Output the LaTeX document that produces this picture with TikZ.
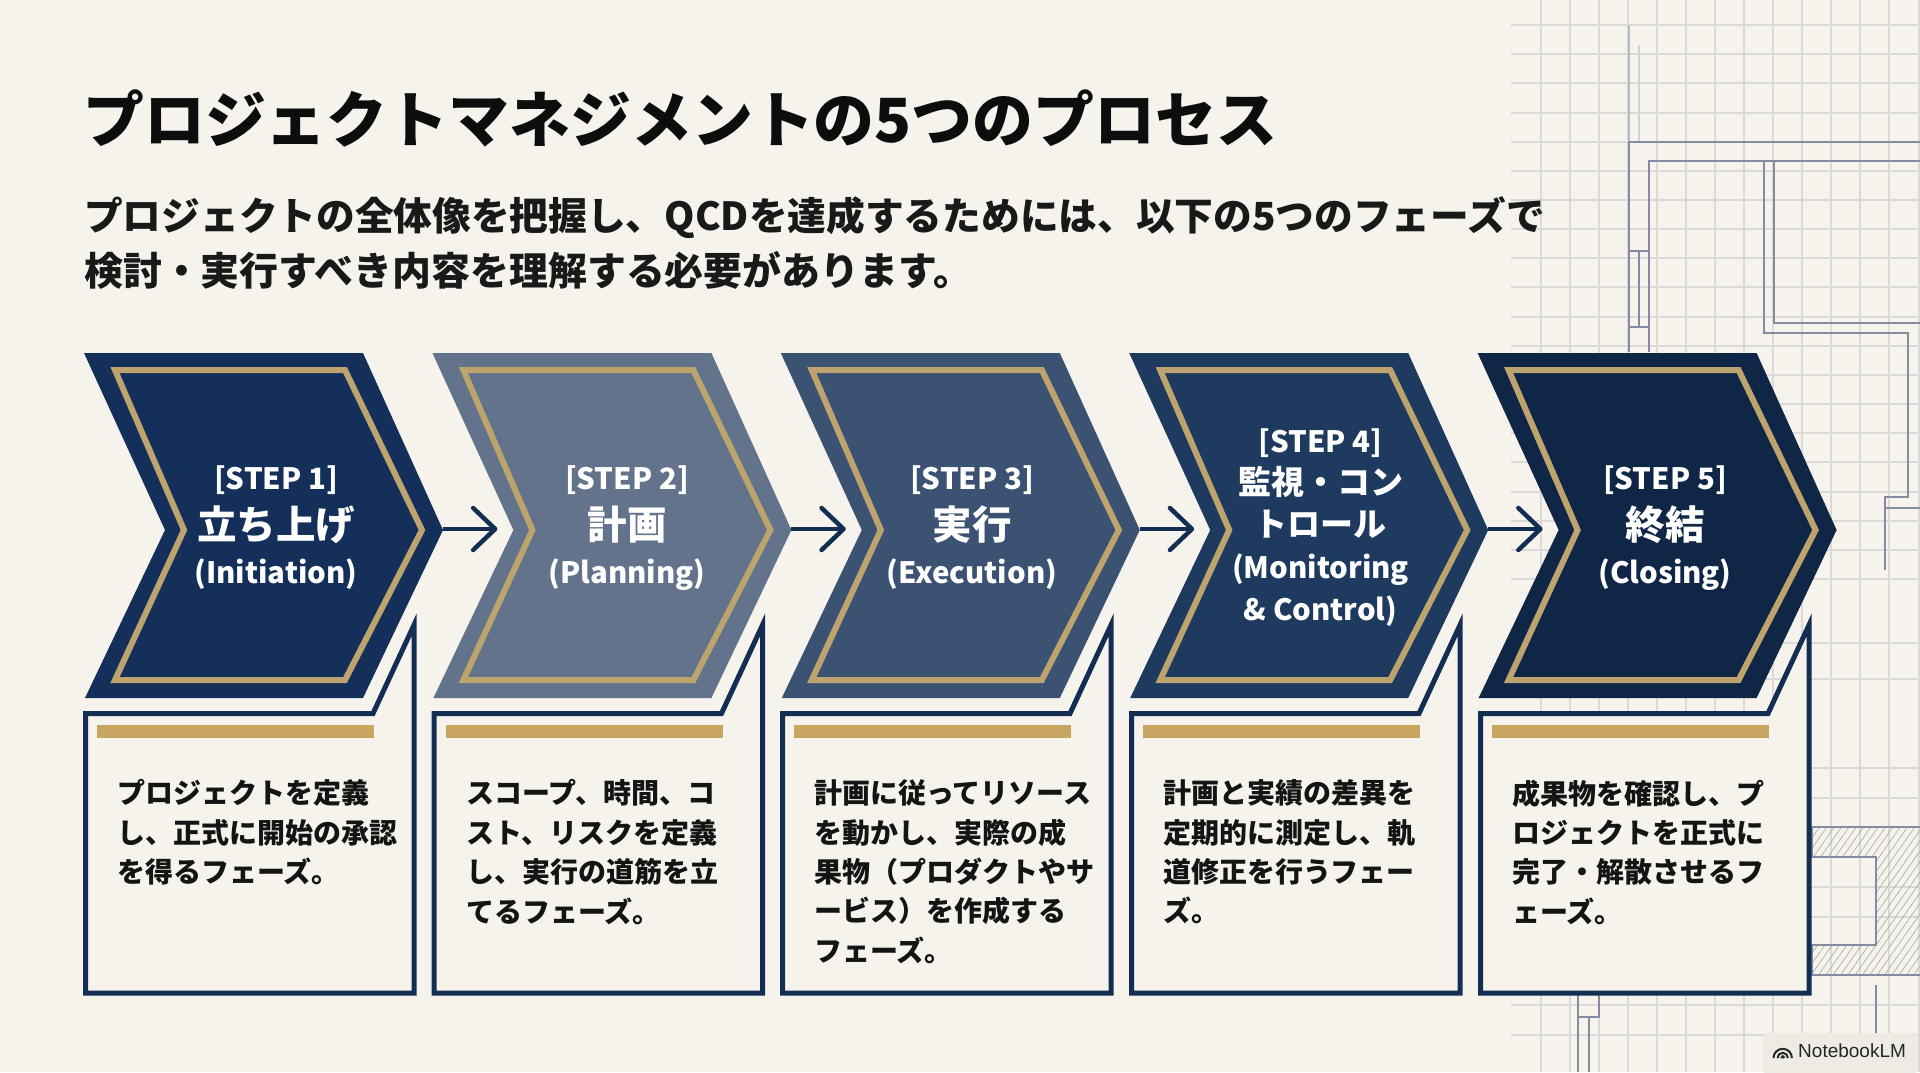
\documentclass[tikz,border=0pt]{standalone}
\usepackage{fontspec}
\usepackage{tikz}
\usetikzlibrary{arrows.meta, patterns.meta}
\setmainfont{Noto Sans CJK JP}
\newfontfamily\badgefont{Liberation Sans}
\definecolor{paper}{HTML}{F6F3EC}
\definecolor{navy}{HTML}{142D52}
\definecolor{gold}{HTML}{BDA36E}
\definecolor{barGold}{HTML}{C9A660}
\definecolor{gridGray}{HTML}{DAD9D5}
\definecolor{planGray}{HTML}{838CA0}
\tikzset{
    gridline/.style={gridGray, line width=1.1pt},
    planline/.style={planGray, line width=1.5pt},
    goldline/.style={gold, line width=6pt, line join=miter},
    cardbox/.style={draw=navy, fill=paper, line width=5pt, line join=miter},
    goldbar/.style={fill=barGold},
    flowarrow/.style={navy, line width=4pt, shorten >=16pt, -{Straight Barb[length=22pt, width=42pt, line width=4.5pt, round]}},
    steptext/.style={text=white, align=center, inner sep=0pt, font=\bfseries\fontsize{29.4}{47}\selectfont},
    bodytext/.style={text=black!92, anchor=north west, align=left, inner sep=0pt, font=\bfseries\fontsize{28}{39.4}\selectfont},
}
\newcommand{\stepjp}{\fontsize{39.5}{47}\selectfont\raisebox{-3pt}}
\begin{document}
\begin{tikzpicture}[x=1pt, y=-1pt]
    \useasboundingbox (0, 0) rectangle (1920, 1072);
    \fill[paper] (0, 0) rectangle (1920, 1072);

    % 方眼
    \foreach \gx in {1541, 1570, 1599, 1628, 1657, 1686, 1715, 1744, 1773, 1802, 1831, 1860, 1889, 1919}
        \draw[gridline] (\gx, 0) -- (\gx, 1072);
    \foreach \gy in {25, 54, 83, 113, 142, 171, 200, 229, 258, 287, 317, 346, 375, 404, 433, 462, 492, 521, 550, 579, 643, 679, 768, 798, 887, 917, 1005, 1035}
        \draw[gridline] (1511, \gy) -- (1920, \gy);

    % 図面
    \draw[planline, planGray!60] (1629, 25) -- (1629, 142);
    \draw[planline, planGray!40] (1639, 45) -- (1639, 142);
    \draw[planline] (1920, 142) -- (1629, 142) -- (1629, 352);
    \draw[planline] (1920, 161) -- (1649, 161) -- (1649, 352);
    \draw[planline] (1629, 251) -- (1649, 251);
    \draw[planline] (1629, 327) -- (1649, 327);
    \draw[planline] (1639, 251) -- (1639, 327);
    \draw[planline] (1764, 161) -- (1764, 333) -- (1908, 333) -- (1908, 497) -- (1885, 497) -- (1885, 570);
    \draw[planline] (1774, 161) -- (1774, 323) -- (1920, 323);
    \draw[planline] (1885, 508) -- (1920, 508);
    \draw[planline, pattern={Lines[angle=55, distance=6pt, line width=0.6pt]}, pattern color=black!35]
        (1812, 827) -- (1921, 827) -- (1921, 975) -- (1812, 975) -- (1812, 945) -- (1876, 945) -- (1876, 857) -- (1812, 857) -- cycle;
    \draw[planline] (1876, 985) -- (1876, 1072);
    \draw[planline] (1578, 993) -- (1578, 1072);
    \draw[planline] (1599, 993) -- (1599, 1017) -- (1578, 1017);
    \draw[planline] (1589, 1017) -- (1589, 1072);

    % 見出し
    \node[anchor=base west, inner sep=0pt, font=\bfseries\fontsize{60.9}{61}\selectfont, text=black!95] (title) at (83, 142) {プロジェクトマネジメントの5つのプロセス};
    \node[anchor=base west, inner sep=0pt, font=\bfseries\fontsize{38.7}{39}\selectfont, text=black!90] (lead1) at (84, 230) {プロジェクトの全体像を把握し、QCDを達成するためには、以下の5つのフェーズで};
    \node[anchor=base west, inner sep=0pt, font=\bfseries\fontsize{38.9}{39}\selectfont, text=black!90] (lead2) at (84, 285) {検討・実行すべき内容を理解する必要があります。};

    % 説明カード
    \draw[cardbox] (85.5, 713.5) -- (373, 713.5) -- (414, 625) -- (414, 993) -- (85.5, 993) -- cycle;
    \draw[cardbox] (434, 713.5) -- (721.5, 713.5) -- (762.5, 625) -- (762.5, 993) -- (434, 993) -- cycle;
    \draw[cardbox] (782.5, 713.5) -- (1070, 713.5) -- (1111, 625) -- (1111, 993) -- (782.5, 993) -- cycle;
    \draw[cardbox] (1131.5, 713.5) -- (1419, 713.5) -- (1460, 625) -- (1460, 993) -- (1131.5, 993) -- cycle;
    \draw[cardbox] (1480.5, 713.5) -- (1768, 713.5) -- (1809, 625) -- (1809, 993) -- (1480.5, 993) -- cycle;
    \fill[goldbar] (97, 725) rectangle (374, 738);
    \fill[goldbar] (445.5, 725) rectangle (722.5, 738);
    \fill[goldbar] (794, 725) rectangle (1071, 738);
    \fill[goldbar] (1143, 725) rectangle (1420, 738);
    \fill[goldbar] (1492, 725) rectangle (1769, 738);

    % シェブロン
    \fill[fill={rgb,255:red,20;green,47;blue,90}] (84, 353) -- (363, 353) -- (443, 530) -- (363, 698) -- (85, 698) -- (165, 530) -- cycle;
    \draw[goldline] (115, 370) -- (345, 370) -- (422, 530) -- (345, 680) -- (115, 680) -- (184, 530) -- cycle;
    \fill[fill={rgb,255:red,98;green,115;blue,139}] (432.4, 353) -- (711.4, 353) -- (791.4, 530) -- (711.4, 698) -- (433.4, 698) -- (513.4, 530) -- cycle;
    \draw[goldline] (463.4, 370) -- (693.4, 370) -- (770.4, 530) -- (693.4, 680) -- (463.4, 680) -- (532.4, 530) -- cycle;
    \fill[fill={rgb,255:red,60;green,82;blue,115}] (780.8, 353) -- (1059.8, 353) -- (1139.8, 530) -- (1059.8, 698) -- (781.8, 698) -- (861.8, 530) -- cycle;
    \draw[goldline] (811.8, 370) -- (1041.8, 370) -- (1118.8, 530) -- (1041.8, 680) -- (811.8, 680) -- (880.8, 530) -- cycle;
    \fill[fill={rgb,255:red,31;green,58;blue,95}] (1129.2, 353) -- (1408.2, 353) -- (1488.2, 530) -- (1408.2, 698) -- (1130.2, 698) -- (1210.2, 530) -- cycle;
    \draw[goldline] (1160.2, 370) -- (1390.2, 370) -- (1467.2, 530) -- (1390.2, 680) -- (1160.2, 680) -- (1229.2, 530) -- cycle;
    \fill[fill={rgb,255:red,15;green,38;blue,70}] (1477.6, 353) -- (1756.6, 353) -- (1836.6, 530) -- (1756.6, 698) -- (1478.6, 698) -- (1558.6, 530) -- cycle;
    \draw[goldline] (1508.6, 370) -- (1738.6, 370) -- (1815.6, 530) -- (1738.6, 680) -- (1508.6, 680) -- (1577.6, 530) -- cycle;

    % 矢印
    \coordinate (tip1) at (443, 529);
    \coordinate (tip2) at (791.4, 529);
    \coordinate (tip3) at (1139.8, 529);
    \coordinate (tip4) at (1488.2, 529);
    \coordinate (notch2) at (513.4, 529);
    \coordinate (notch3) at (861.8, 529);
    \coordinate (notch4) at (1210.2, 529);
    \coordinate (notch5) at (1558.6, 529);
    \draw[flowarrow] (tip1) -- (notch2);
    \draw[flowarrow] (tip2) -- (notch3);
    \draw[flowarrow] (tip3) -- (notch4);
    \draw[flowarrow] (tip4) -- (notch5);

    % ステップ名
    \node[steptext] (step1) at (276, 528) {[STEP 1]\\{\stepjp{立ち上げ}}\\(Initiation)};
    \node[steptext] (step2) at (627, 528) {[STEP 2]\\{\stepjp{計画}}\\(Planning)};
    \node[steptext] (step3) at (972, 528) {[STEP 3]\\{\stepjp{実行}}\\(Execution)};
    \node[steptext, font=\bfseries\fontsize{29.4}{42}\selectfont] (step4) at (1320.5, 528) {[STEP 4]\\{\fontsize{33}{42}\selectfont 監視・コン}\\{\fontsize{33}{42}\selectfont トロール}\\(Monitoring\\\& Control)};
    \node[steptext] (step5) at (1665, 528) {[STEP 5]\\{\stepjp{終結}}\\(Closing)};

    % 説明文
    \node[bodytext] (body1) at (117, 779.5) {プロジェクトを定義\\し、正式に開始の承認\\を得るフェーズ。};
    \node[bodytext] (body2) at (466, 779.5) {スコープ、時間、コ\\スト、リスクを定義\\し、実行の道筋を立\\てるフェーズ。};
    \node[bodytext] (body3) at (814, 779.5) {計画に従ってリソース\\を動かし、実際の成\\果物（プロダクトやサ\\ービス）を作成する\\フェーズ。};
    \node[bodytext] (body4) at (1163, 779.5) {計画と実績の差異を\\定期的に測定し、軌\\道修正を行うフェー\\ズ。};
    \node[bodytext] (body5) at (1512, 779.5) {成果物を確認し、プ\\ロジェクトを正式に\\完了・解散させるフ\\ェーズ。};

    % ロゴ
    \fill[rounded corners=4pt, paper!70!gridGray] (1763, 1033) rectangle (1917, 1074);
    \draw[black!85, line width=2pt] (1773.5, 1058) arc[start angle=180, end angle=360, radius=9.2];
    \draw[black!85, line width=2pt] (1777.5, 1058) arc[start angle=180, end angle=360, radius=5.2];
    \draw[black!85, line width=2pt] (1781, 1058) arc[start angle=180, end angle=360, radius=1.7];
    \node[anchor=west, inner sep=0pt, font=\badgefont\fontsize{19}{19}\selectfont, text=black!85] (badge) at (1798, 1051) {NotebookLM};
\end{tikzpicture}
\end{document}
